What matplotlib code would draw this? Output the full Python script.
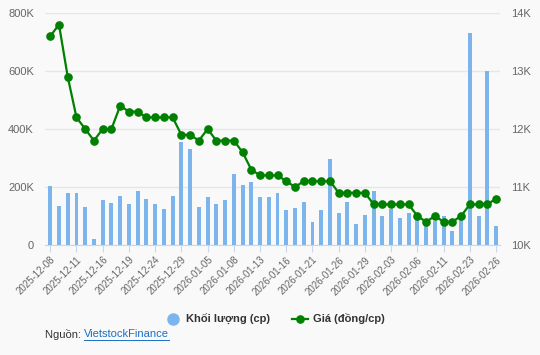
import matplotlib
matplotlib.use("Agg")
import matplotlib.pyplot as plt
from matplotlib.lines import Line2D
from matplotlib.ticker import FuncFormatter

plt.rcParams['font.family'] = ['Liberation Sans', 'DejaVu Sans']

# trading days
dates = ['2025-12-08', '2025-12-09', '2025-12-10', '2025-12-11', '2025-12-12',
         '2025-12-15', '2025-12-16', '2025-12-17', '2025-12-18', '2025-12-19',
         '2025-12-22', '2025-12-23', '2025-12-24', '2025-12-25', '2025-12-26',
         '2025-12-29', '2025-12-30', '2025-12-31', '2026-01-05', '2026-01-06',
         '2026-01-07', '2026-01-08', '2026-01-09', '2026-01-12', '2026-01-13',
         '2026-01-14', '2026-01-15', '2026-01-16', '2026-01-19', '2026-01-20',
         '2026-01-21', '2026-01-22', '2026-01-23', '2026-01-26', '2026-01-27',
         '2026-01-28', '2026-01-29', '2026-01-30', '2026-02-02', '2026-02-03',
         '2026-02-04', '2026-02-05', '2026-02-06', '2026-02-09', '2026-02-10',
         '2026-02-11', '2026-02-12', '2026-02-13', '2026-02-23', '2026-02-24',
         '2026-02-25', '2026-02-26']

# volume in thousand shares
volume = [202, 136, 178, 181, 131, 22, 156, 146, 168, 143,
          187, 160, 140, 125, 168, 355, 331, 131, 165, 140,
          156, 244, 208, 218, 165, 165, 178, 121, 128, 147,
          81, 121, 298, 112, 147, 74, 102, 186, 101, 123,
          92, 111, 100, 85, 84, 100, 49, 86, 732, 101,
          601, 64]

# price in thousand dong
price = [13.6, 13.8, 12.9, 12.2, 12.0, 11.8, 12.0, 12.0, 12.4, 12.3,
         12.3, 12.2, 12.2, 12.2, 12.2, 11.9, 11.9, 11.8, 12.0, 11.8,
         11.8, 11.8, 11.6, 11.3, 11.2, 11.2, 11.2, 11.1, 11.0, 11.1,
         11.1, 11.1, 11.1, 10.9, 10.9, 10.9, 10.9, 10.7, 10.7, 10.7,
         10.7, 10.7, 10.5, 10.4, 10.5, 10.4, 10.4, 10.5, 10.7, 10.7,
         10.7, 10.8]

bg = '#f9f9f9'
txt = '#666666'
bar_color = '#7cb5ec'
line_color = '#008000'

fig = plt.figure(figsize=(5.4, 3.55), dpi=100, facecolor=bg)
ax = fig.add_axes([45 / 540, 1 - 245 / 355, 455 / 540, 232 / 355])
ax.set_facecolor(bg)
x = list(range(len(dates)))

ax.bar(x, volume, width=0.45, color=bar_color, zorder=2)
ax.set_ylim(0, 800)
ax.set_yticks([0, 200, 400, 600, 800])
ax.yaxis.set_major_formatter(FuncFormatter(lambda v, p: '0' if v == 0 else f'{v:.0f}K'))
ax.grid(axis='y', color='#e6e6e6', linewidth=1, zorder=0)
ax.set_axisbelow(True)
ax.set_xlim(-0.6, 51.45)
ax.set_xticks(x[::3])
ax.set_xticklabels(dates[::3], rotation=45, ha='right', rotation_mode='anchor',
                   fontsize=7, color=txt)
ax.tick_params(axis='x', length=5, color='#ccd6eb', pad=2)
ax.tick_params(axis='y', length=0, labelsize=8, labelcolor=txt, pad=8)
for s in ['top', 'left', 'right']:
    ax.spines[s].set_visible(False)
ax.spines['bottom'].set_color('#ccd6eb')

ax2 = ax.twinx()
ax2.plot(x, price, color=line_color, linewidth=1.6, marker='o', markersize=5.2, zorder=3)
ax2.set_ylim(10, 14)
ax2.set_yticks([10, 11, 12, 13, 14])
ax2.yaxis.set_major_formatter(FuncFormatter(lambda v, p: f'{v:.0f}K'))
ax2.tick_params(axis='y', length=0, labelsize=8, labelcolor=txt, pad=8)
for s in ['top', 'left', 'right', 'bottom']:
    ax2.spines[s].set_visible(False)

handles = [Line2D([], [], linestyle='none', marker='o', markersize=8, color=bar_color),
           Line2D([], [], color=line_color, linewidth=1.6, marker='o', markersize=5.2)]
fig.legend(handles, ['Khối lượng (cp)', 'Giá (đồng/cp)'], loc='center',
           bbox_to_anchor=(275 / 540, 1 - 319 / 355), ncol=2, frameon=False,
           prop={'size': 8, 'weight': 'bold'}, labelcolor='#333333',
           handlelength=1.4, columnspacing=2.0, handletextpad=0.5)

t1 = fig.text(45 / 540, 1 - 334 / 355, 'Nguồn: ', fontsize=8, color='#333333', va='center')
fig.canvas.draw()
bb = t1.get_window_extent()
t2 = fig.text(bb.x1 / 540, 1 - 334 / 355, 'VietstockFinance', fontsize=8,
              color='#1a6fc4', va='center')
fig.canvas.draw()
bb2 = t2.get_window_extent()
fig.add_artist(Line2D([bb2.x0 / 540, bb2.x1 / 540], [(bb2.y0 - 0.5) / 355] * 2,
                      color='#1a6fc4', linewidth=0.7))

fig.savefig('out.png', dpi=100, facecolor=bg)
